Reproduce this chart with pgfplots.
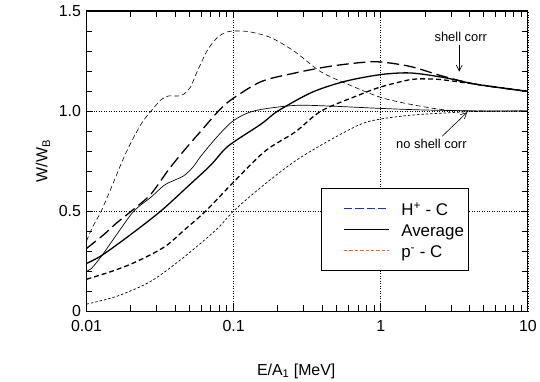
\documentclass[border=0pt]{standalone}
\usepackage{fontspec}
\setmainfont{Liberation Sans}
\usepackage{pgfplots}
\pgfplotsset{compat=1.18}
\usetikzlibrary{arrows.meta}
\definecolor{legred}{RGB}{255,90,60}
\definecolor{legblue}{RGB}{20,40,255}
\newcommand{\lstrut}{\rule[-4pt]{0pt}{19.5pt}}
\begin{document}
\begin{tikzpicture}
\begin{axis}[
  scale only axis, width=444pt, height=302pt,
  xmode=log, xmin=0.01, xmax=10, ymin=0, ymax=1.5,
  xtick={0.01,0.1,1,10}, xticklabels={0.01,0.1,1,10},
  minor xtick={0.02,0.03,0.04,0.05,0.06,0.07,0.08,0.09,0.2,0.3,0.4,0.5,0.6,0.7,0.8,0.9,2,3,4,5,6,7,8,9},
  ytick={0,0.5,1,1.5}, yticklabels={0,0.5,1.0,1.5},
  minor ytick={0.1,0.2,0.3,0.4,0.6,0.7,0.8,0.9,1.1,1.2,1.3,1.4},
  tick align=inside, major tick length=7pt, minor tick length=6pt,
  tick style={black, line width=0.8pt},
  axis line style={line width=1.2pt},
  grid=major, major grid style={black, line width=0.5pt, dotted},
  tick label style={font=\fontsize{16}{19}\selectfont},
  xticklabel style={yshift=-6pt},
  yticklabel style={xshift=-2pt},
  xlabel={E/A\textsubscript{1} [MeV]}, ylabel={W/W\textsubscript{B}},
  label style={font=\fontsize{16}{19}\selectfont},
  xlabel style={yshift=-25pt, xshift=-11pt},
  ylabel style={yshift=2pt},
  legend style={at={(0.532,0.411)}, anchor=north west, draw=black, line width=1pt, fill=white,
    font=\fontsize{17}{19}\selectfont, inner xsep=3pt, inner ysep=10pt, row sep=0pt},
  legend cell align=left,
  legend image code/.code={\path[draw=none] (0pt,0pt) -- (75pt,0pt); \draw[#1] (19pt,0pt) -- (65pt,0pt);},
  every axis plot/.append style={smooth, tension=0.5},
]
% thin dashed, big peak
\addplot[forget plot, black, line width=0.6pt, dash pattern=on 5pt off 3pt] coordinates {
(0.01,0.35) (0.011,0.42) (0.0126,0.5) (0.015,0.63) (0.018,0.77) (0.021,0.87) (0.024,0.945)
(0.0275,1.0) (0.032,1.055) (0.036,1.075) (0.042,1.075) (0.046,1.085) (0.051,1.12) (0.056,1.19)
(0.066,1.30) (0.077,1.365) (0.09,1.395) (0.105,1.40) (0.13,1.395) (0.18,1.366) (0.26,1.297)
(0.39,1.197) (0.6,1.133) (1.0,1.068) (1.6,1.033) (2.7,1.006) (4.5,1.0) (10,1.0)};
% thick long dashed
\addplot[forget plot, black, line width=1.3pt, dash pattern=on 12pt off 5pt] coordinates {
(0.01,0.313) (0.013,0.38) (0.016,0.44) (0.021,0.51) (0.0275,0.586) (0.0364,0.71) (0.047,0.81) (0.06,0.90)
(0.079,1.0) (0.097,1.058) (0.154,1.147) (0.262,1.19) (0.44,1.222) (0.73,1.242) (1.0,1.245)
(1.6,1.222) (2.7,1.172) (4.5,1.133) (10,1.098)};
% thin solid
\addplot[forget plot, black, line width=0.7pt] coordinates {
(0.01,0.20) (0.0108,0.213) (0.0128,0.28) (0.0163,0.39) (0.021,0.50) (0.0275,0.57) (0.0336,0.628) (0.039,0.652) (0.046,0.677)
(0.053,0.72) (0.06,0.775) (0.077,0.87) (0.097,0.945) (0.12,0.985) (0.154,1.008) (0.262,1.028) (0.44,1.025) (1.0,1.013)
(2,1.005) (5,1.0) (10,1.0)};
% thick solid
\addplot[forget plot, black, line width=1.3pt] coordinates {
(0.01,0.238) (0.0128,0.28) (0.02,0.383) (0.032,0.50) (0.05,0.63) (0.07,0.73) (0.092,0.825)
(0.154,0.935) (0.2,1.0) (0.34,1.093) (0.57,1.148) (1.0,1.182) (1.6,1.19) (2.7,1.167)
(4.5,1.133) (10,1.098)};
% thick short dashed
\addplot[forget plot, black, line width=1.3pt, dash pattern=on 5pt off 3pt] coordinates {
(0.01,0.159) (0.015,0.20) (0.02,0.235) (0.027,0.28) (0.0353,0.33) (0.047,0.41) (0.0646,0.50)
(0.1,0.645) (0.164,0.80) (0.262,0.895) (0.394,1.0) (0.73,1.083) (1.0,1.12) (1.6,1.157)
(2.2,1.16) (2.7,1.155) (4.5,1.133) (10,1.098)};
% thin dotted
\addplot[forget plot, black, line width=0.7pt, dash pattern=on 2.5pt off 2pt] coordinates {
(0.01,0.035) (0.0162,0.075) (0.0275,0.15) (0.046,0.27) (0.077,0.41) (0.1,0.5) (0.154,0.62)
(0.262,0.75) (0.44,0.85) (0.73,0.934) (1.0,0.96) (1.6,0.979) (2.7,0.99) (4.5,0.998) (10,1.0)};
\addlegendimage{draw=legblue, color=legblue, line width=1pt, dash pattern=on 8.5pt off 3pt}
\addlegendentry{\lstrut H\textsuperscript{+} - C}
\addlegendimage{draw=black, line width=1pt}
\addlegendentry{\lstrut Average}
\addlegendimage{draw=legred, color=legred, line width=1pt, dash pattern=on 3.5pt off 2pt}
\addlegendentry{\lstrut p\textsuperscript{-} - C}
\node[font=\fontsize{13}{15}\selectfont] at (axis cs:3.5,1.37) {shell corr};
\draw[-{Straight Barb[length=6pt,width=6pt]}, line width=0.6pt] (axis cs:3.42,1.331) -- (axis cs:3.42,1.197);
\node[font=\fontsize{13}{15}\selectfont] at (axis cs:2.21,0.835) {no shell corr};
\draw[-{Straight Barb[length=6pt,width=6pt]}, line width=0.6pt] (axis cs:2.62,0.874) -- (axis cs:3.87,0.994);
\end{axis}
\path (current axis.south west) ++(-87pt,-68pt) rectangle ++(540pt,381pt);
\end{tikzpicture}
\end{document}
